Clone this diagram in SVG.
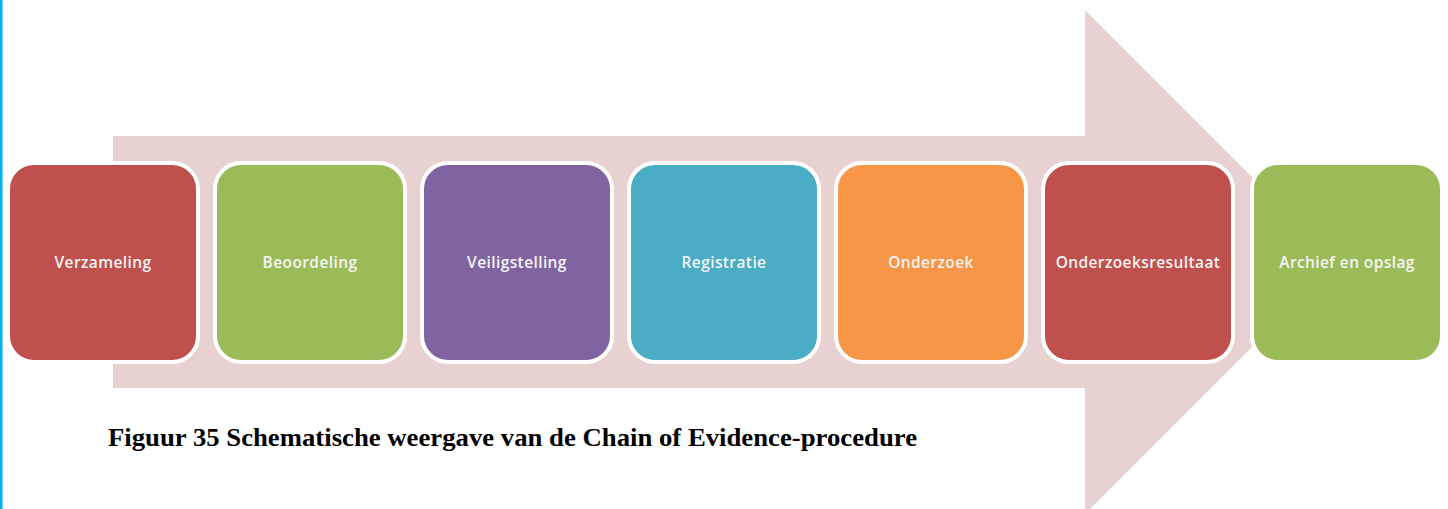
<svg xmlns="http://www.w3.org/2000/svg" width="1448" height="509" viewBox="0 0 1448 509">
<style>
.box{stroke:#ffffff;stroke-width:4}
.lbl{font-family:"Open Sans","Liberation Sans",sans-serif;font-weight:600;font-size:15.5px;letter-spacing:0.4px;fill:#F4F4F4;text-anchor:middle}
.cap{font-family:"Liberation Serif","Times New Roman",serif;font-weight:bold;font-size:26px;fill:#000000}
</style>
<rect x="0" y="0" width="1448" height="509" fill="#ffffff"/>
<rect x="0" y="0" width="2.5" height="509" fill="#00B0F0"/>
<g id="connectors">
<polygon points="113,136 1085,136 1085,10 1337,262 1085,514 1085,388 113,388" fill="#E8D1D1"/>
</g>
<g id="n1"><rect class="box" x="8" y="163" width="190" height="199" rx="26" fill="#C0504D"/><text class="lbl" x="103" y="268">Verzameling</text></g>
<g id="n2"><rect class="box" x="215" y="163" width="190" height="199" rx="26" fill="#9BBB59"/><text class="lbl" x="310" y="268">Beoordeling</text></g>
<g id="n3"><rect class="box" x="422" y="163" width="190" height="199" rx="26" fill="#8064A2"/><text class="lbl" x="517" y="268">Veiligstelling</text></g>
<g id="n4"><rect class="box" x="629" y="163" width="190" height="199" rx="26" fill="#4BACC6"/><text class="lbl" x="724" y="268">Registratie</text></g>
<g id="n5"><rect class="box" x="836" y="163" width="190" height="199" rx="26" fill="#F79646"/><text class="lbl" x="931" y="268">Onderzoek</text></g>
<g id="n6"><rect class="box" x="1043" y="163" width="190" height="199" rx="26" fill="#C0504D"/><text class="lbl" x="1138" y="268">Onderzoeksresultaat</text></g>
<g id="n7"><rect class="box" x="1252" y="163" width="190" height="199" rx="26" fill="#9BBB59"/><text class="lbl" x="1347" y="268">Archief en opslag</text></g>
<text class="cap" x="108" y="446" textLength="809" lengthAdjust="spacingAndGlyphs">Figuur 35 Schematische weergave van de Chain of Evidence-procedure</text>
</svg>
